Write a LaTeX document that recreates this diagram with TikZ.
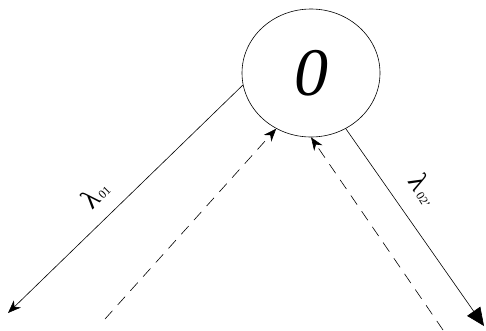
\documentclass[tikz,border=0pt]{standalone}
\usepackage{fontspec}
\setmainfont{Liberation Serif}
\usetikzlibrary{arrows.meta,shapes.geometric}
\begin{document}
\begin{tikzpicture}[x=1pt,y=-1pt,
  state/.style={ellipse,draw,line width=0.6pt,minimum width=138pt,minimum height=128pt,inner sep=0pt},
  solidarrow/.style={line width=0.6pt},
  dasharrow/.style={line width=0.6pt,dash pattern=on 11pt off 8pt},
  lab/.style={inner sep=0pt}]
\useasboundingbox (0,0) rectangle (486,330);
\node[state] (c) at (311,73) {\fontsize{68}{68}\selectfont\itshape 0};
\coordinate (a1) at (8,313);
\coordinate (a2) at (484,326);
\coordinate (d1) at (105,319);
\coordinate (d2) at (443,330);
\draw[solidarrow,-{Stealth[length=13pt,width=10pt,inset=4pt]}] (c.190) -- (a1);
\draw[solidarrow,-{Triangle[length=18pt,width=16pt]}] (c.-58) -- (a2);
\draw[dasharrow,-{Stealth[length=13pt,width=10pt]}] (d1) -- (c.-122);
\draw[dasharrow,-{Stealth[length=13pt,width=10pt]}] (d2) -- (c.-90);
\node[lab,rotate=45] (l1) at (95,194) {\fontsize{28}{28}\selectfont λ\fontsize{12}{12}\selectfont\,01};
\node[lab,rotate=-58] (l2) at (424,190) {\fontsize{28}{28}\selectfont λ\fontsize{12}{12}\selectfont\,02'};
\end{tikzpicture}
\end{document}
